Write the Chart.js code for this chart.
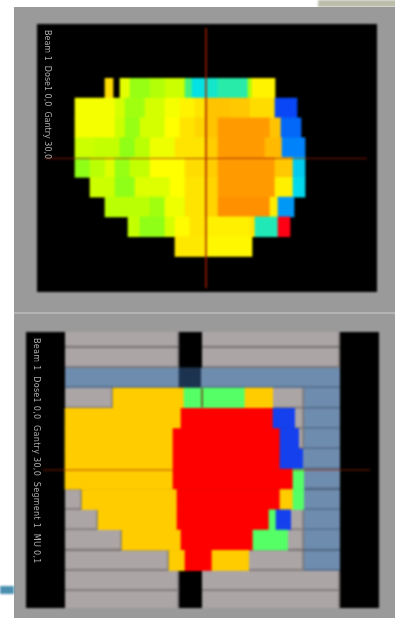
<!DOCTYPE html>
<html><head><meta charset="utf-8">
<script src="https://cdn.jsdelivr.net/npm/chart.js@4"></script>
<style>
html,body{margin:0;padding:0;background:#fff;overflow:hidden}
#page{position:relative;width:395px;height:621px;overflow:hidden}
.panel{position:absolute;left:14px;width:381px;background:#9a9a9a}
.corner{position:absolute;left:318px;top:0;width:80px;height:7px;background:#bcbcaa;filter:blur(1px)}
.rule{position:absolute;left:0;top:586px;width:14px;height:8px;background:#4a8fb0;filter:blur(1px)}
.sep{position:absolute;left:14px;top:312px;width:381px;height:2px;background:#b4b4b4;filter:blur(.6px)}
.plot{position:absolute;background:#000;filter:blur(1px)}
.plot canvas{display:block}
.cap{position:absolute;writing-mode:vertical-rl;font:8px "DejaVu Sans",sans-serif;color:#adadad;white-space:pre;filter:blur(.7px)}
</style></head><body>
<div id="page">
<div class="corner"></div>
<div class="panel" style="top:7px;height:611px"></div>
<div class="sep"></div>
<div class="rule"></div>
<div class="plot" style="left:37px;top:24px;width:340px;height:268px"><canvas id="top"></canvas></div>
<div class="plot" style="left:26px;top:332px;width:353px;height:276px"><canvas id="bottom"></canvas></div>
<div class="cap" style="left:43px;top:30px">Beam 1  Dose1 0,0  Gantry 30,0</div>
<div class="cap" style="left:32px;top:338px;letter-spacing:.3px">Beam 1  Dose1 0,0  Gantry 30,0  Segment 1  MU 0,1</div>
</div>
<script>
// Dose map: each row lists [from, to, dose] runs along the field axis
const doseRow0=[[105,113,74],[120,130,62],[130,150,53],[150,165,56],[165,185,59],[185,192,40],[192,205,26],[205,218,30],[218,248,35],[248,252,55],[252,275,68]];
const doseRow1=[[75,115,64],[115,125,60],[125,145,54],[145,165,60],[165,180,64],[180,195,68],[195,205,72],[205,230,80],[230,250,79],[250,275,74],[275,297,3]];
const doseRow2=[[75,115,64],[115,125,59],[125,140,53],[140,165,60],[165,180,65],[180,195,72],[195,205,76],[205,218,80],[218,270,88],[270,281,80],[281,301,8]];
const doseRow3=[[75,95,59],[95,120,58],[120,135,52],[135,150,57],[150,175,63],[175,205,72],[205,218,78],[218,265,88],[265,282,82],[282,305,12]];
const doseRow4=[[75,90,52],[90,105,57],[105,115,61],[115,130,53],[130,150,58],[150,185,65],[185,205,74],[205,218,78],[218,275,88],[275,293,79],[293,305,22]];
const doseRow5=[[90,115,59],[115,135,52],[135,170,61],[170,185,65],[185,205,72],[205,218,76],[218,275,88],[275,293,69],[293,305,24]];
const doseRow6=[[105,150,57],[150,165,54],[165,185,63],[185,205,72],[205,218,76],[218,270,90],[270,278,70],[278,294,15]];
const doseRow7=[[128,140,58],[140,165,52],[165,175,60],[175,190,66],[190,205,72],[205,250,69],[250,255,72],[255,278,33],[278,290,100]];
const doseRow8=[[175,205,71],[205,252,67]];
const doseRows=[doseRow0,doseRow1,doseRow2,doseRow3,doseRow4,doseRow5,doseRow6,doseRow7,doseRow8];

// Segment map: each row lists [from, to, class] runs
const G=0,S=1,N=2,Y=3,R=4,L=5,B=6;
const segRow0=[[65,179,G],[202,340,G]];
const segRow1=[[65,179,G],[202,340,G]];
const segRow2=[[65,179,S],[179,201,N],[201,340,S]];
const segRow3=[[65,113,G],[113,184,Y],[184,245,L],[245,273,Y],[273,304,G],[304,340,S]];
const segRow4=[[65,181,Y],[181,273,R],[273,295,B],[295,304,G],[304,340,S]];
const segRow5=[[65,173,Y],[173,280,R],[280,299,B],[299,304,G],[304,340,S]];
const segRow6=[[65,173,Y],[173,280,R],[280,303,B],[303,340,S]];
const segRow7=[[65,173,Y],[173,293,R],[293,304,L],[304,340,S]];
const segRow8=[[65,82,G],[82,177,Y],[177,280,R],[280,293,Y],[293,304,L],[304,340,S]];
const segRow9=[[65,98,G],[98,177,Y],[177,269,R],[269,276,L],[276,291,B],[291,304,G],[304,340,S]];
const segRow10=[[65,122,G],[122,181,Y],[181,253,R],[253,288,L],[288,304,G],[304,340,S]];
const segRow11=[[65,169,G],[169,185,Y],[185,212,R],[212,249,Y],[249,304,G],[304,340,S]];
const segRow12=[[65,179,G],[202,340,G]];
const segRow13=[[65,179,G],[202,340,G]];
const segRows=[segRow0,segRow1,segRow2,segRow3,segRow4,segRow5,segRow6,segRow7,segRow8,segRow9,segRow10,segRow11,segRow12,segRow13];

// Crosshair positions
const topCrossX=[[206,-3.04],[206,10.1]];
const topCrossY=[[45,3.55],[367,3.55]];
const bottomCrossX=[[202,2.52],[202,3.45]];
const bottomCrossY=[[43,6.54],[173,6.54],[null,null],[293,6.54],[370,6.54]];

const doseStops=[[0,[10,50,245]],[12,[0,130,250]],[25,[0,225,235]],[35,[40,235,170]],[50,[125,255,30]],[58,[195,255,0]],[65,[255,255,0]],[78,[255,205,0]],[90,[255,145,0]],[100,[255,0,20]]];
function doseColor(v){
  for(let i=1;i<doseStops.length;i++){
    const [a,ca]=doseStops[i-1],[b,cb]=doseStops[i];
    if(v<=b){const t=(v-a)/(b-a);return `rgb(${ca.map((c,k)=>Math.round(c+(cb[k]-c)*t)).join(',')})`;}
  }
  return 'rgb(255,0,20)';
}
const segColors=['#aca5a5','#6e8cae','#1c3350','#ffcc00','#ff0000','#55ff66','#1440ee'];
const segEdge=['#7d7878','#566f8e','#1c3350','#ffcc00','#ff0000','#55ff66','#1440ee'];

function points(rows){return rows.flatMap((row,r)=>row.map(s=>({x:[s[0],s[1]],y:r,k:s[2]})));}
function crossDs(pts,color){return {type:'scatter',indexAxis:'x',showLine:true,spanGaps:false,pointRadius:0,borderWidth:1,borderColor:color,order:1,
  data:pts.map(p=>({x:p[0],y:p[1]}))};}
function axes(xmin,xmax,ymin,ymax){return {
  x:{type:'linear',min:xmin,max:xmax,display:false,beginAtZero:false},
  y:{type:'linear',reverse:true,offset:false,min:ymin,max:ymax,display:false,beginAtZero:false}};}
function make(id,datasets,scales){
  new Chart(document.getElementById(id),{type:'bar',data:{datasets},options:{indexAxis:'y',responsive:false,animation:false,
    layout:{padding:0},scales,plugins:{legend:{display:false},tooltip:{enabled:false}}}});
}
const T=document.getElementById('top');T.width=340;T.height=268;
const Bc=document.getElementById('bottom');Bc.width=353;Bc.height=276;
const topPts=points(doseRows);
make('top',[
 {data:topPts,backgroundColor:topPts.map(p=>doseColor(p.k)),barPercentage:1,categoryPercentage:1,grouped:false,order:2},
 crossDs(topCrossX,'rgba(170,30,0,.75)'),
 crossDs(topCrossY,'rgba(170,30,0,.75)')
],axes(37,377,(24-88.2)/19.8,(292-88.2)/19.8));
const botPts=points(segRows);
make('bottom',[
 {data:botPts,backgroundColor:botPts.map(p=>segColors[p.k]),
  borderColor:botPts.map(p=>segEdge[p.k]),
  borderWidth:botPts.map(p=>p.k<=1?{top:0,left:0,right:p.k==0?2:0,bottom:2}:0),
  borderSkipped:false,barPercentage:1,categoryPercentage:1,grouped:false,order:2},
 crossDs(bottomCrossX,'rgba(110,80,40,.9)'),
 crossDs(bottomCrossY,'rgba(170,40,0,.75)')
],axes(26,379,3-(398.15-332)/20.3,3+(608-398.15)/20.3));
</script>
</body></html>
